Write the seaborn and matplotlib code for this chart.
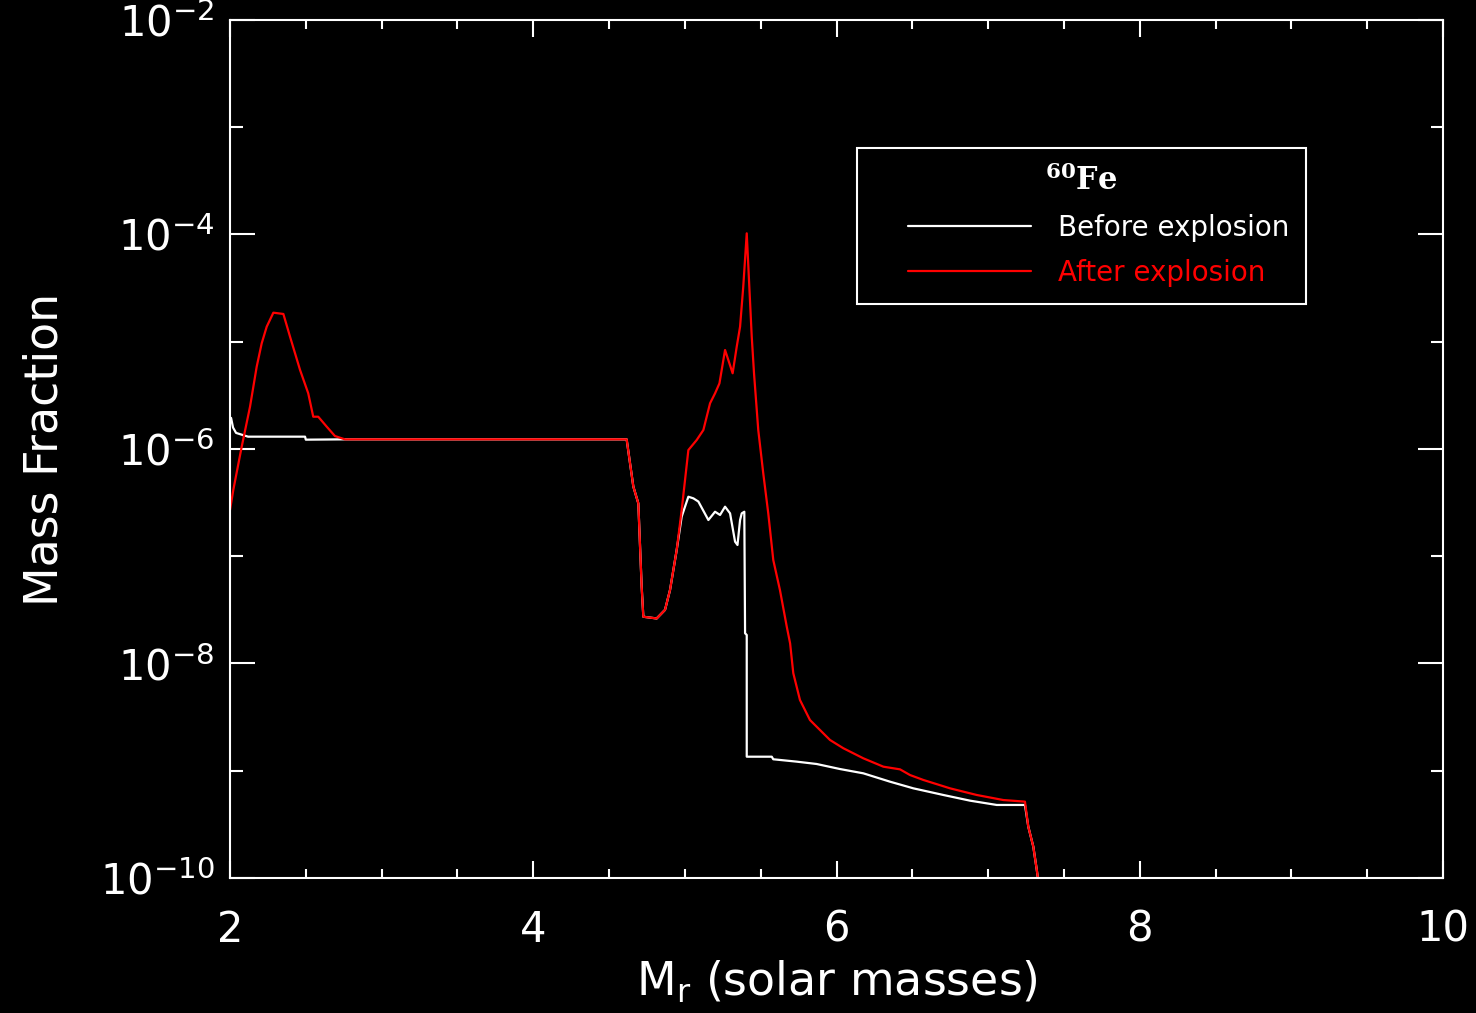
import numpy as np
import pandas as pd
import matplotlib
matplotlib.use("Agg")
import matplotlib.pyplot as plt
from matplotlib.ticker import FixedLocator, MultipleLocator, NullFormatter, FixedFormatter
from matplotlib.lines import Line2D
from matplotlib.legend_handler import HandlerLine2D
import seaborn as sns

# ---------------- data ----------------
# Mass coordinate (solar masses) and log10(mass fraction) of 60Fe
before_mr = [2.007, 2.020, 2.040, 2.119, 2.495, 2.500, 2.758, 4.616, 4.660, 4.693,
             4.715, 4.726, 4.814, 4.869, 4.902, 4.946, 4.979, 5.023, 5.056, 5.089,
             5.155, 5.199, 5.232, 5.265, 5.298, 5.331, 5.347, 5.364, 5.375, 5.392,
             5.397, 5.408, 5.408, 5.573, 5.583, 5.737, 5.869, 6.023, 6.177, 6.353,
             6.507, 6.705, 6.881, 7.057, 7.243, 7.265, 7.298, 7.321, 7.331]
before_log = [-5.71, -5.80, -5.85, -5.885, -5.885, -5.913, -5.91, -5.91, -6.35, -6.507,
              -7.284, -7.564, -7.58, -7.50, -7.315, -6.942, -6.63, -6.445, -6.46, -6.49,
              -6.662, -6.585, -6.615, -6.538, -6.60, -6.864, -6.895, -6.662, -6.60, -6.585,
              -7.718, -7.734, -8.869, -8.869, -8.893, -8.915, -8.937, -8.984, -9.024, -9.102,
              -9.164, -9.226, -9.279, -9.319, -9.319, -9.522, -9.708, -9.925, -10.03]

after_mr = [2.000, 2.022, 2.077, 2.132, 2.176, 2.209, 2.242, 2.286, 2.352, 2.396,
            2.462, 2.516, 2.549, 2.582, 2.638, 2.692, 2.758, 4.616, 4.660, 4.693,
            4.715, 4.726, 4.814, 4.869, 4.902, 4.946, 4.979, 5.023, 5.078, 5.122,
            5.166, 5.199, 5.228, 5.265, 5.315, 5.342, 5.364, 5.385, 5.408, 5.425,
            5.441, 5.456, 5.484, 5.517, 5.550, 5.583, 5.627, 5.672, 5.694, 5.715,
            5.759, 5.825, 5.957, 6.045, 6.177, 6.309, 6.419, 6.485, 6.573, 6.749,
            6.925, 7.100, 7.243, 7.265, 7.298, 7.321, 7.331]
after_log = [-6.569, -6.38, -5.98, -5.606, -5.233, -5.015, -4.86, -4.729, -4.741, -4.953,
             -5.263, -5.481, -5.699, -5.699, -5.792, -5.879, -5.91, -5.91, -6.35, -6.507,
             -7.284, -7.564, -7.58, -7.50, -7.315, -6.942, -6.569, -6.01, -5.916, -5.823,
             -5.574, -5.481, -5.388, -5.077, -5.294, -5.046, -4.86, -4.487, -3.989, -4.487,
             -4.953, -5.294, -5.823, -6.227, -6.60, -7.035, -7.315, -7.657, -7.812, -8.09,
             -8.34, -8.527, -8.713, -8.79, -8.884, -8.962, -8.987, -9.04, -9.086, -9.164,
             -9.226, -9.273, -9.288, -9.522, -9.708, -9.925, -10.03]

series_labels = ["Before explosion", "After explosion"]
series_colors = ["#ffffff", "#ff0000"]
legend_title = r"$^{60}$Fe"
x_label = r"M$_r$ (solar masses)"
y_label = "Mass Fraction"
x_ticks = [2, 4, 6, 8, 10]
y_ticks = [1e-10, 1e-8, 1e-6, 1e-4, 1e-2]
y_tick_labels = [r"$10^{-10}$", r"$10^{-8}$", r"$10^{-6}$", r"$10^{-4}$", r"$10^{-2}$"]
y_minor = [1e-9, 1e-7, 1e-5, 1e-3]

# ---------------- style ----------------
sns.set_style("dark")
plt.rcParams.update({
    "font.family": ["DejaVu Sans"],
    "mathtext.default": "regular",
    "figure.facecolor": "black",
    "axes.facecolor": "black",
    "savefig.facecolor": "black",
    "axes.edgecolor": "white",
    "axes.labelcolor": "white",
    "text.color": "white",
    "xtick.color": "white",
    "ytick.color": "white",
    "axes.grid": False,
})

df_before = pd.DataFrame({"mr": before_mr, "frac": np.power(10.0, before_log)})
df_after = pd.DataFrame({"mr": after_mr, "frac": np.power(10.0, after_log)})

fig = plt.figure(figsize=(14.76, 10.13), dpi=100)
ax = fig.add_axes([230 / 1476, 1 - 878 / 1013, (1443 - 230) / 1476, (878 - 20) / 1013])

sns.lineplot(data=df_before, x="mr", y="frac", estimator=None, sort=False,
             color=series_colors[0], lw=1.6, ax=ax)
sns.lineplot(data=df_after, x="mr", y="frac", estimator=None, sort=False,
             color=series_colors[1], lw=1.6, ax=ax)

ax.set_yscale("log")
ax.set_xlim(2, 10)
ax.set_ylim(1e-10, 1e-2)

ax.xaxis.set_major_locator(FixedLocator(x_ticks))
ax.xaxis.set_minor_locator(MultipleLocator(0.5))
ax.yaxis.set_major_locator(FixedLocator(y_ticks))
ax.yaxis.set_major_formatter(FixedFormatter(y_tick_labels))
ax.yaxis.set_minor_locator(FixedLocator(y_minor))
ax.yaxis.set_minor_formatter(NullFormatter())

for s in ax.spines.values():
    s.set_color("white")
    s.set_linewidth(1.5)

ax.tick_params(axis="x", which="major", direction="in", length=12, width=1.5,
               top=True, bottom=True, labelsize=30, pad=22)
ax.tick_params(axis="x", which="minor", direction="in", length=6.5, width=1.5,
               top=True, bottom=True)
ax.tick_params(axis="y", which="major", direction="in", length=18, width=1.5,
               left=True, right=True, labelsize=30, pad=11)
ax.tick_params(axis="y", which="minor", direction="in", length=9, width=1.5,
               left=True, right=True)

ax.set_xlabel(x_label, fontsize=33, labelpad=6)
ax.set_ylabel(y_label, fontsize=33, labelpad=2)
ax.yaxis.set_label_coords(-0.134, 0.5)


class ShiftedLineHandler(HandlerLine2D):
    """Legend line that starts a bit to the right inside its handle box."""
    gap = 25.0  # points

    def create_artists(self, legend, orig_handle, xdescent, ydescent, width,
                       height, fontsize, trans):
        artists = super().create_artists(legend, orig_handle, xdescent, ydescent,
                                         width, height, fontsize, trans)
        legline = artists[0]
        xd = np.asarray(legline.get_xdata(), dtype=float)
        legline.set_xdata(np.linspace(xd.min() + self.gap, xd.max(), xd.size))
        return artists


handles = [Line2D([], [], color=c, lw=1.6) for c in series_colors]
leg = ax.legend(handles, series_labels, title=legend_title,
                loc="center", bbox_to_anchor=(0.702, 0.760),
                frameon=True, fancybox=False, framealpha=1,
                facecolor="black", edgecolor="white",
                fontsize=20, handlelength=5.69, handletextpad=0.97,
                borderpad=0.6, labelspacing=0.62, borderaxespad=0,
                handler_map={Line2D: ShiftedLineHandler()},
                title_fontproperties={"family": "DejaVu Serif", "weight": "bold", "size": 22})
leg.get_frame().set_linewidth(1.5)
for t, c in zip(leg.get_texts(), series_colors):
    t.set_color(c)
leg.get_title().set_color("white")

fig.savefig("out.png", dpi=100, facecolor="black")
